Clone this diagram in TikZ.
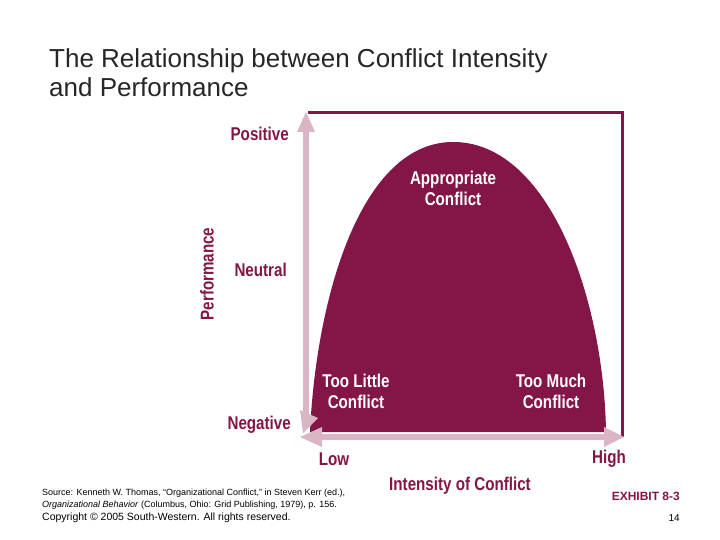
\documentclass[tikz,border=0pt]{standalone}
\usepackage{fontspec}
\setmainfont{Liberation Sans}
\newcommand{\cnd}[1]{\scalebox{0.82}[1]{#1}}
\begin{document}
\begin{tikzpicture}[x=1pt,y=-1pt,
  lab/.style={font=\bfseries\fontsize{18.5}{20}\selectfont, text=maroon, inner sep=0pt},
  wlab/.style={font=\bfseries\fontsize{18.5}{21}\selectfont, text=white, align=center, inner sep=0pt}]
\definecolor{maroon}{HTML}{841547}
\definecolor{pinkc}{HTML}{D9B5C5}
\useasboundingbox (0,0) rectangle (720,540);
% frame
\draw[maroon, line width=3pt] (308,113) -- (622,113) -- (622,437);
% curve
\fill[maroon] (310,432) .. controls (316,300) and (360,140) .. (455,142)
  .. controls (550,144) and (604,300) .. (606,432) -- cycle;
% axes
\coordinate (ytop) at (306,112);
\coordinate (xend) at (624,437);
\draw[pinkc, line width=6pt] (306,126) -- (306,420);
\fill[pinkc] (ytop) -- ++(-9,20) -- ++(18,0) -- cycle;
\draw[pinkc, line width=6pt] (316,437) -- (606,437);
\fill[pinkc] (xend) -- ++(-20,-10) -- ++(0,20) -- cycle;
\fill[pinkc] (300,437) -- ++(22,-10) -- ++(0,20) -- cycle;
\fill[pinkc] (303,433) -- (300,410) -- (318,418) -- cycle;
% labels
\node[lab, anchor=east] (pos) at (289,134) {\cnd{Positive}};
\node[lab, anchor=east] (neu) at (287,270) {\cnd{Neutral}};
\node[lab, anchor=east] (neg) at (291,425) {\cnd{Negative}};
\node[lab, rotate=90] (perf) at (207,274) {\cnd{Performance}};
\node[lab] (low) at (334,459) {\cnd{Low}};
\node[lab] (high) at (609,459) {\cnd{High}};
\node[lab] (int) at (460,486) {\cnd{Intensity of Conflict}};
\node[wlab] (app) at (453,188) {\cnd{Appropriate}\\\cnd{Conflict}};
\node[wlab] (tl) at (356,391) {\cnd{Too Little}\\\cnd{Conflict}};
\node[wlab] (tm) at (551,391) {\cnd{Too Much}\\\cnd{Conflict}};
% title
\node[anchor=north west, align=left, font=\fontsize{26}{29}\selectfont, text=black!85, inner sep=0pt] (title) at (49,48) {The Relationship between Conflict Intensity\\and Performance};
% footer
\node[anchor=west, font=\fontsize{9}{11}\selectfont, inner sep=0pt] (src1) at (42,493) {Source: Kenneth W. Thomas, ``Organizational Conflict,'' in Steven Kerr (ed.),};
\node[anchor=west, font=\fontsize{9}{11}\selectfont, inner sep=0pt] (src2) at (42,505) {\textit{Organizational Behavior} (Columbus, Ohio: Grid Publishing, 1979), p. 156.};
\node[anchor=west, font=\fontsize{10.5}{12}\selectfont, inner sep=0pt] (copy) at (42,518) {Copyright © 2005 South-Western. All rights reserved.};
\node[anchor=east, font=\bfseries\fontsize{12}{14}\selectfont, text=maroon, inner sep=0pt] (ex) at (680,496) {EXHIBIT 8-3};
\node[anchor=east, font=\fontsize{10}{12}\selectfont, inner sep=0pt] (pg) at (680,518) {14};
\end{tikzpicture}
\end{document}
